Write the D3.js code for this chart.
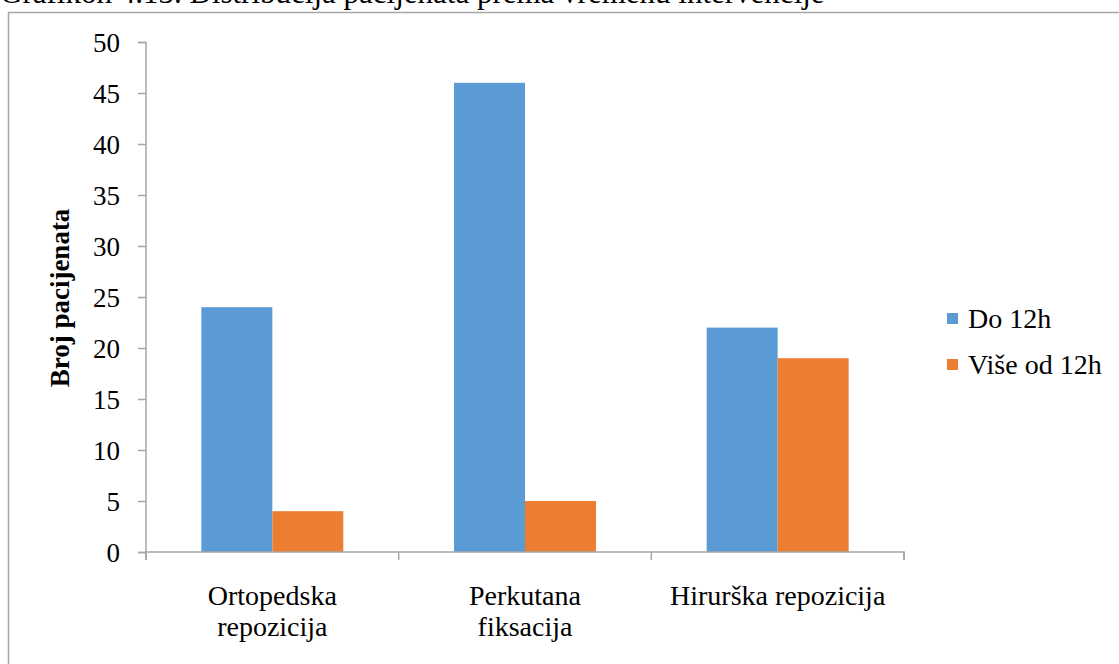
<!DOCTYPE html>
<html>
<head>
<meta charset="utf-8">
<script src="https://cdn.jsdelivr.net/npm/d3@7"></script>
<style>
  html, body { margin: 0; padding: 0; background: #fff; }
  svg { display: block; }
  text { font-family: "Liberation Serif", "Times New Roman", serif; fill: #000; }
</style>
</head>
<body>
<svg id="chart" width="1119" height="664"></svg>
<script>
const categories = [["Ortopedska", "repozicija"], ["Perkutana", "fiksacija"], ["Hirurška repozicija"]];
const seriesNames = ["Do 12h", "Više od 12h"];
const seriesDo12h = [24, 46, 22];
const seriesVise12h = [4, 5, 19];
const yTicks = [0, 5, 10, 15, 20, 25, 30, 35, 40, 45, 50];
const colors = ["#5B9BD5", "#ED7D31"];
const titleText = "Grafikon 4.13. Distribucija pacijenata prema vremenu intervencije";
const yAxisTitle = "Broj pacijenata";

const svg = d3.select("#chart");
const catKeys = categories.map(c => c.join(" "));
const data = catKeys.map((k, i) => ({ key: k, lines: categories[i], values: [seriesDo12h[i], seriesVise12h[i]] }));
const FS = 28;

// cut-off caption at top
svg.append("text").attr("x", 0).attr("y", 3).attr("font-size", 31).text(titleText);

// frame
svg.append("path").attr("d", "M8.5,700 L8.5,12.5 L1130,12.5")
  .attr("fill", "none").attr("stroke", "#a6a6a6").attr("stroke-width", 1.5);

const x0 = d3.scaleBand().domain(catKeys).range([146, 904]);
const x1 = d3.scaleBand().domain([0, 1]).range([0, x0.bandwidth()]).paddingOuter(0.78).paddingInner(0);
const y = d3.scaleLinear().domain([0, 50]).range([552, 42]);

// bars
const g = svg.append("g");
g.selectAll("g.cat").data(data).join("g")
  .attr("transform", d => `translate(${x0(d.key)},0)`)
  .selectAll("rect").data(d => d.values.map((v, i) => ({ v, i }))).join("rect")
  .attr("x", d => x1(d.i)).attr("width", x1.bandwidth())
  .attr("y", d => y(d.v)).attr("height", d => y(0) - y(d.v))
  .attr("fill", d => colors[d.i]);

// y axis
const yAxis = svg.append("g").attr("transform", "translate(146,0)")
  .call(d3.axisLeft(y).tickValues(yTicks).tickSize(8).tickPadding(18).tickFormat(d3.format("d")));
yAxis.attr("font-family", null).attr("font-size", null);
yAxis.select(".domain").attr("stroke", "#a6a6a6").attr("stroke-width", 1.5).attr("d", "M-8,42.5H0V552.5H-8");
yAxis.selectAll(".tick line").attr("stroke", "#a6a6a6").attr("stroke-width", 1.5);
yAxis.selectAll(".tick text").attr("font-size", 27).attr("fill", "#000").attr("dy", "0.34em");

// x axis
const xAxis = svg.append("g").attr("transform", "translate(0,552)")
  .call(d3.axisBottom(x0).tickSize(0).tickFormat(""));
xAxis.select(".domain").attr("stroke", "#a6a6a6").attr("stroke-width", 1.5).attr("d", "M146,0V8V0H904V8");
xAxis.selectAll(".tick").remove();
const bounds = catKeys.map(k => x0(k)).concat([x0.range()[1]]);
xAxis.selectAll("line.sep").data(bounds).join("line").attr("class", "sep")
  .attr("x1", d => d).attr("x2", d => d).attr("y1", 0).attr("y2", 8)
  .attr("stroke", "#a6a6a6").attr("stroke-width", 1.5);

// category labels
data.forEach(d => {
  const cx = x0(d.key) + x0.bandwidth() / 2;
  const t = svg.append("text").attr("text-anchor", "middle").attr("font-size", FS)
    .attr("x", cx).attr("y", 605);
  d.lines.forEach((ln, j) => t.append("tspan").attr("x", cx).attr("dy", j ? 31 : 0).text(ln));
});

// y axis title
svg.append("text").attr("transform", "translate(69,298) rotate(-90)")
  .attr("text-anchor", "middle").attr("font-size", 27).attr("font-weight", "bold").text(yAxisTitle);

// legend
const leg = svg.append("g");
seriesNames.forEach((s, i) => {
  leg.append("rect").attr("x", 947).attr("y", 313 + i * 46).attr("width", 11).attr("height", 11).attr("fill", colors[i]);
  leg.append("text").attr("x", 968).attr("y", 328 + i * 46).attr("font-size", FS).text(s);
});
</script>
</body>
</html>
